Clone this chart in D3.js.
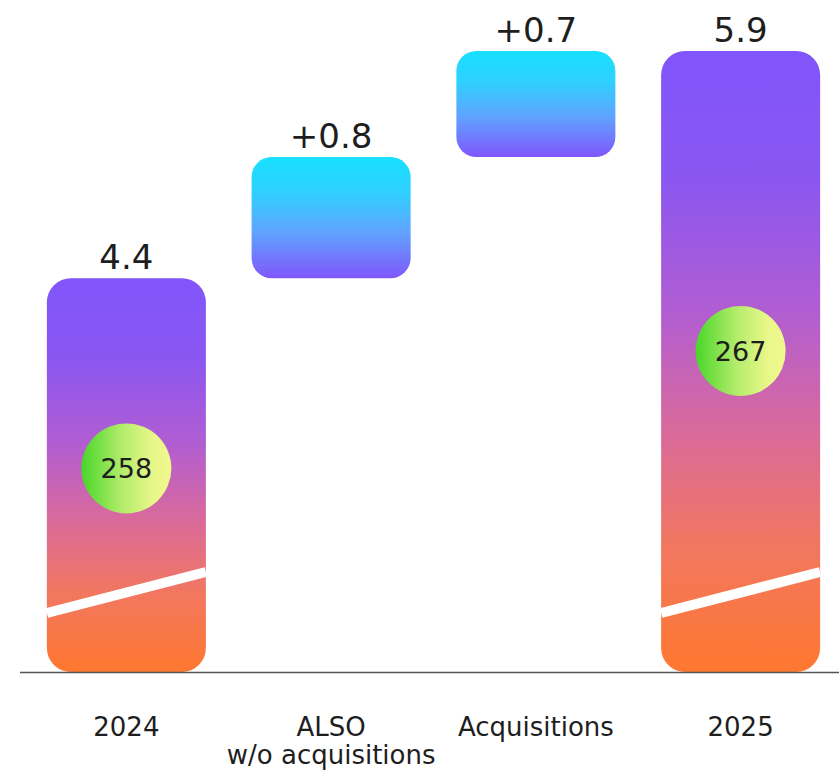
<!DOCTYPE html>
<html>
<head>
<meta charset="utf-8">
<script src="https://cdn.jsdelivr.net/npm/d3@7"></script>
<style>
  html, body { margin: 0; padding: 0; background: #fff; }
  svg { display: block; }
  text { font-family: "DejaVu Sans", Verdana, sans-serif; fill: #1e1e1e; }
</style>
</head>
<body>
<svg id="chart" width="839" height="776"></svg>
<script>
// ---- data ----
const categories = ["2024", "ALSO\nw/o acquisitions", "Acquisitions", "2025"];
const barTypes   = ["total", "delta", "delta", "total"];
const values     = [4.4, 0.8, 0.7, 5.9];
const valueLabels = ["4.4", "+0.8", "+0.7", "5.9"];
const circleValues = [258, null, null, 267];
const yDomain = [1.8, 5.9];   // broken axis: baseline is not zero

// ---- layout ----
const W = 839, H = 776;
const baseY = 672;
const svg = d3.select("#chart");

const x = d3.scaleBand()
  .domain(categories)
  .range([24, 843])
  .paddingInner(0.2234)
  .paddingOuter(0.1117);

const y = d3.scaleLinear().domain(yDomain).range([baseY, 51]);

// compute waterfall segments
let running = 0;
const segs = categories.map((c, i) => {
  let lo, hi;
  if (barTypes[i] === "total") { lo = yDomain[0]; hi = values[i]; running = values[i]; }
  else { lo = running; hi = running + values[i]; running = hi; }
  return { cat: c, type: barTypes[i], lo, hi, label: valueLabels[i], circle: circleValues[i] };
});

// ---- gradients ----
const defs = svg.append("defs");
const gTotal = defs.append("linearGradient").attr("id", "gTotal")
  .attr("x1", 0).attr("y1", 0).attr("x2", 0).attr("y2", 1);
[[0, "#8155FB"], [0.2, "#8A56F1"], [0.42, "#B15DD2"], [0.6, "#D7699F"],
 [0.8, "#F2775F"], [1, "#FF7830"]].forEach(([o, c]) =>
  gTotal.append("stop").attr("offset", o).attr("stop-color", c));

const gDelta = defs.append("linearGradient").attr("id", "gDelta")
  .attr("x1", 0).attr("y1", 0).attr("x2", 0).attr("y2", 1);
[[0, "#18E0FF"], [0.3, "#30CFFF"], [0.6, "#5EA6FF"], [1, "#8057FB"]].forEach(([o, c]) =>
  gDelta.append("stop").attr("offset", o).attr("stop-color", c));

const gCircle = defs.append("linearGradient").attr("id", "gCircle")
  .attr("x1", 0).attr("y1", 0).attr("x2", 1).attr("y2", 0);
[[0, "#48D62A"], [0.45, "#B3EC6A"], [0.8, "#E9F78A"], [1, "#F0F88C"]].forEach(([o, c]) =>
  gCircle.append("stop").attr("offset", o).attr("stop-color", c));

// ---- bars ----
const bw = x.bandwidth();
const g = svg.append("g");

segs.forEach(s => {
  const x0 = x(s.cat);
  const yTop = y(s.hi), yBot = y(s.lo);
  const isTotal = s.type === "total";
  g.append("rect")
    .attr("x", x0).attr("y", yTop)
    .attr("width", bw).attr("height", yBot - yTop)
    .attr("rx", isTotal ? 24 : 20).attr("ry", isTotal ? 24 : 20)
    .attr("fill", isTotal ? "url(#gTotal)" : "url(#gDelta)");

  // value label
  svg.append("text")
    .attr("x", x0 + bw / 2).attr("y", yTop - 9)
    .attr("text-anchor", "middle")
    .attr("font-size", 34)
    .text(s.label);

  if (isTotal) {
    // axis break slash
    g.append("line")
      .attr("x1", x0).attr("y1", baseY - 59)
      .attr("x2", x0 + bw).attr("y2", baseY - 100)
      .attr("stroke", "#fff").attr("stroke-width", 10);

    // circle
    const cx = x0 + bw / 2;
    const cy = yBot - 0.517 * (yBot - yTop);
    g.append("circle").attr("cx", cx).attr("cy", cy).attr("r", 45)
      .attr("fill", "url(#gCircle)");
    svg.append("text")
      .attr("x", cx).attr("y", cy + 10)
      .attr("text-anchor", "middle")
      .attr("font-size", 27)
      .text(s.circle);
  }
});

// baseline
svg.append("line")
  .attr("x1", 20).attr("x2", W)
  .attr("y1", baseY + 0.5).attr("y2", baseY + 0.5)
  .attr("stroke", "#555").attr("stroke-width", 1.3);

// category labels
const xAxis = svg.append("g");
categories.forEach(c => {
  const t = xAxis.append("text")
    .attr("x", x(c) + bw / 2).attr("y", 736)
    .attr("text-anchor", "middle")
    .attr("font-size", 26);
  c.split("\n").forEach((line, i) => {
    t.append("tspan").attr("x", x(c) + bw / 2).attr("dy", i === 0 ? 0 : 28).text(line);
  });
});
</script>
</body>
</html>
